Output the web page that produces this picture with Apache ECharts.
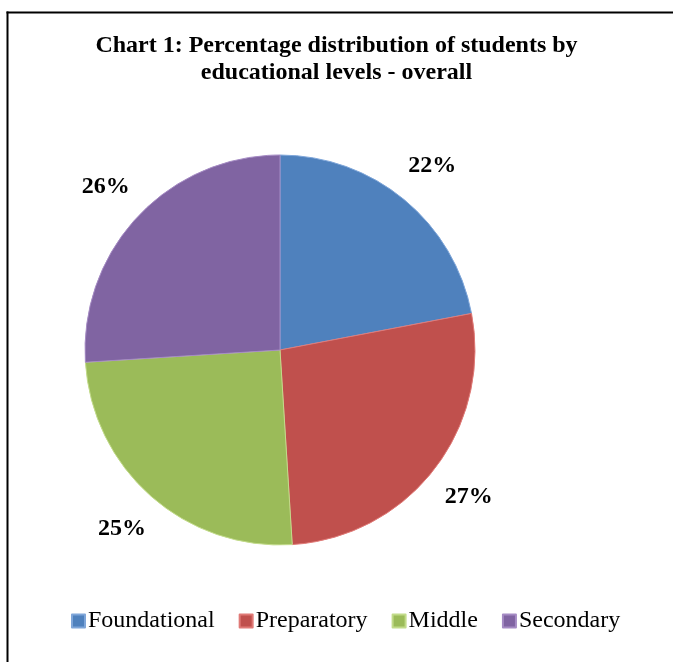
<!DOCTYPE html>
<html><head><meta charset="utf-8">
<script src="https://cdn.jsdelivr.net/npm/echarts@6/dist/echarts.min.js"></script>
<style>html,body{margin:0;padding:0;background:#fff}#c{width:673px;height:662px}</style>
</head><body><div id="c"></div>
<script>
const categories = ['Foundational', 'Preparatory', 'Middle', 'Secondary'];
const values = [22, 27, 25, 26];
const colors = ['#4F81BD', '#C0504D', '#9BBB59', '#8064A2'];
const edgeColors = ['#7FA6D9', '#E07A77', '#C2DB8A', '#A58BC4'];
const titleText = 'Chart 1: Percentage distribution of students by\neducational levels - overall';

const chart = echarts.init(document.getElementById('c'), null, {renderer: 'canvas'});
const pieData = categories.map((c, i) => ({
  name: c, value: values[i],
  itemStyle: {color: colors[i], borderColor: edgeColors[i], borderWidth: 1}
}));
const labelData = categories.map((c, i) => ({name: c, value: values[i]}));
chart.setOption({
  animation: false,
  title: {
    text: titleText, left: 'center', top: 32, padding: 0,
    textStyle: {fontFamily: 'Liberation Serif', fontWeight: 'bold', fontSize: 24, lineHeight: 27, color: '#000'}
  },
  legend: {
    data: categories, top: 609, left: 71, padding: 0,
    icon: 'rect', itemWidth: 13, itemHeight: 13, itemGap: 24,
    textStyle: {fontFamily: 'Liberation Serif', fontSize: 24, color: '#000', padding: [0, 0, 0, -2]}
  },
  graphic: [
    {type: 'line', shape: {x1: 7.5, y1: 11.5, x2: 7.5, y2: 662}, style: {stroke: '#000', lineWidth: 2}, silent: true},
    {type: 'line', shape: {x1: 6.5, y1: 12.5, x2: 673, y2: 12.5}, style: {stroke: '#000', lineWidth: 2}, silent: true}
  ],
  series: [
    {
      type: 'pie', center: [280, 350], radius: 195, startAngle: 90, clockwise: true,
      data: pieData, label: {show: false}, labelLine: {show: false}, silent: true
    },
    {
      type: 'pie', center: [280, 350], radius: [198, 274], startAngle: 90, clockwise: true,
      data: labelData, silent: true, legendHoverLink: false,
      itemStyle: {color: 'rgba(0,0,0,0)'},
      label: {show: true, position: 'inside', formatter: '{c}%', fontFamily: 'Liberation Serif', fontWeight: 'bold', fontSize: 24, color: '#000'},
      labelLine: {show: false}
    }
  ]
});
</script></body></html>
